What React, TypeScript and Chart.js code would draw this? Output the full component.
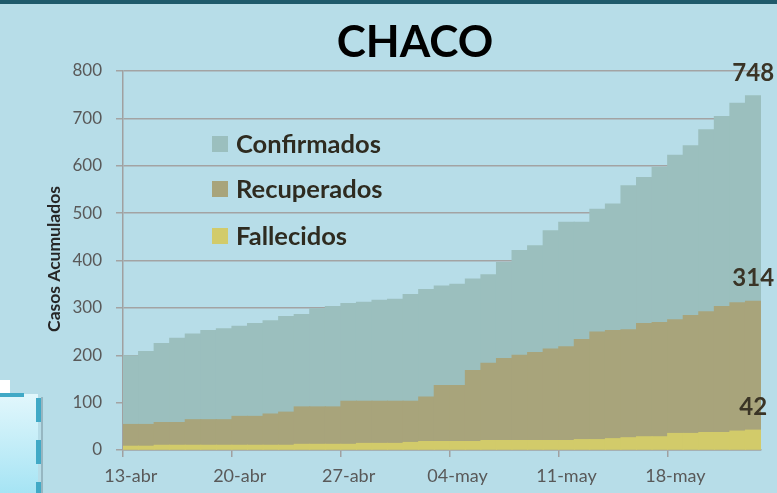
import React, { useEffect, useRef } from "react";
import { Chart, registerables } from "chart.js";

Chart.register(...registerables);

const W = 777;
const H = 493;

const fechas = [
  "13-abr", "14-abr", "15-abr", "16-abr", "17-abr", "18-abr", "19-abr",
  "20-abr", "21-abr", "22-abr", "23-abr", "24-abr", "25-abr", "26-abr",
  "27-abr", "28-abr", "29-abr", "30-abr", "01-may", "02-may", "03-may",
  "04-may", "05-may", "06-may", "07-may", "08-may", "09-may", "10-may",
  "11-may", "12-may", "13-may", "14-may", "15-may", "16-may", "17-may",
  "18-may", "19-may", "20-may", "21-may", "22-may", "23-may",
];

const confirmados = [
  199, 208, 225, 236, 245, 252, 256, 261, 267, 273, 282, 286, 298, 303,
  309, 312, 316, 318, 328, 339, 346, 350, 361, 370, 396, 421, 431, 463,
  481, 481, 508, 519, 558, 575, 597, 622, 642, 676, 704, 732, 748,
];

const recuperados = [
  54, 54, 58, 58, 64, 64, 64, 71, 71, 76, 80, 91, 91, 91, 103, 103, 103,
  103, 103, 112, 136, 136, 168, 183, 193, 200, 206, 213, 218, 233, 249,
  252, 254, 267, 269, 275, 284, 292, 303, 311, 314,
];

const fallecidos = [
  8, 8, 10, 10, 10, 10, 10, 10, 10, 10, 10, 12, 12, 12, 12, 14, 14, 14,
  16, 18, 18, 18, 18, 20, 20, 20, 20, 20, 20, 22, 22, 24, 26, 28, 28, 35,
  35, 37, 37, 40, 42,
];

const yTicks = [0, 100, 200, 300, 400, 500, 600, 700, 800];

const seriesNames = ["Confirmados", "Recuperados", "Fallecidos"];
const seriesColors = ["#9bbfbe", "#a8a47b", "#d2cb6a"];

const FONT = "Lato, 'Open Sans', sans-serif";

const decorPlugin = {
  id: "decor",
  beforeDraw(chart: any) {
    const ctx = chart.ctx;
    ctx.save();
    ctx.fillStyle = "#b7dde8";
    ctx.fillRect(0, 0, W, H);
    ctx.fillStyle = "#1f5a6b";
    ctx.fillRect(0, 0, W, 4);
    // bottom-left decoration
    ctx.fillStyle = "#ffffff";
    ctx.fillRect(0, 380, 10, 14);
    const g = ctx.createLinearGradient(0, 394, 0, 493);
    g.addColorStop(0, "#e2f7fc");
    g.addColorStop(1, "#a6e4f4");
    ctx.fillStyle = g;
    ctx.fillRect(0, 394, 38, 99);
    ctx.fillStyle = "rgba(90,110,120,0.35)";
    ctx.fillRect(41, 397, 2, 96);
    ctx.fillStyle = "#41a9c6";
    ctx.fillRect(0, 393, 24, 4);
    ctx.fillRect(36, 398, 5, 24);
    ctx.fillRect(36, 440, 5, 24);
    ctx.fillRect(36, 482, 5, 11);
    ctx.restore();
  },
  afterDraw(chart: any) {
    const ctx = chart.ctx;
    ctx.save();
    // title
    ctx.fillStyle = "#000000";
    ctx.font = `bold 44px ${FONT}`;
    ctx.textAlign = "center";
    ctx.textBaseline = "alphabetic";
    ctx.fillText("CHACO", 415, 57);

    // y axis title
    ctx.save();
    ctx.translate(54, 259);
    ctx.rotate(-Math.PI / 2);
    ctx.font = `bold 17.5px ${FONT}`;
    ctx.fillStyle = "#262626";
    ctx.textAlign = "center";
    ctx.textBaseline = "middle";
    ctx.fillText("Casos Acumulados", 0, 0);
    ctx.restore();

    // legend
    const rowsY = [144, 189, 236];
    seriesNames.forEach((name, i) => {
      ctx.fillStyle = seriesColors[i];
      ctx.fillRect(212, rowsY[i] - 8, 16, 16);
      ctx.fillStyle = "#2e2b20";
      ctx.font = `bold 25.5px ${FONT}`;
      ctx.textAlign = "left";
      ctx.textBaseline = "middle";
      ctx.fillText(name, 236, rowsY[i] + 1);
    });

    // value labels on the last bar of each series
    const lastVals = [confirmados, recuperados, fallecidos];
    chart.data.datasets.forEach((ds: any, di: number) => {
      const meta = chart.getDatasetMeta(di);
      const n = ds.data.length;
      const el = meta.data[n - 1];
      if (!el) return;
      ctx.fillStyle = "#3a3426";
      ctx.font = `bold 24px ${FONT}`;
      ctx.textAlign = "center";
      ctx.textBaseline = "alphabetic";
      ctx.fillText(String(lastVals[di][n - 1]), el.x, el.y - 15);
    });
    ctx.restore();
  },
};

export default function App() {
  const ref = useRef<HTMLCanvasElement | null>(null);

  useEffect(() => {
    if (!ref.current) return;
    const common = {
      grouped: false,
      barPercentage: 1,
      categoryPercentage: 1,
      borderWidth: 0,
      inflateAmount: 0.5,
    };
    const chart = new Chart(ref.current, {
      type: "bar",
      data: {
        labels: fechas,
        datasets: [
          { label: seriesNames[0], data: confirmados, backgroundColor: seriesColors[0], order: 3, ...common },
          { label: seriesNames[1], data: recuperados, backgroundColor: seriesColors[1], order: 2, ...common },
          { label: seriesNames[2], data: fallecidos, backgroundColor: seriesColors[2], order: 1, ...common },
        ] as any,
      },
      options: {
        animation: false,
        responsive: false,
        devicePixelRatio: 1,
        layout: { padding: { left: 0, top: 71, right: 16, bottom: 0 } },
        plugins: {
          legend: { display: false },
          tooltip: { enabled: false },
          title: { display: false },
        },
        scales: {
          x: {
            offset: true,
            afterFit: (s: any) => {
              s.height = 43;
            },
            grid: {
              offset: true,
              drawOnChartArea: false,
              drawTicks: true,
              tickLength: 7,
              color: (c: any) => (c.index % 7 === 0 ? "#a0a0a0" : "rgba(0,0,0,0)"),
              lineWidth: 1.5,
            },
            border: { color: "#a0a0a0", width: 1.5 },
            ticks: {
              autoSkip: false,
              maxRotation: 0,
              minRotation: 0,
              padding: 8,
              color: "#595959",
              font: { family: FONT, size: 18 },
              callback: (_v: any, i: number) => (i % 7 === 0 ? fechas[i] : ""),
            },
          },
          y: {
            min: yTicks[0],
            max: yTicks[yTicks.length - 1],
            afterFit: (s: any) => {
              s.width = 123;
            },
            afterBuildTicks: (s: any) => {
              s.ticks = yTicks.map((v) => ({ value: v }));
            },
            grid: {
              color: "#a3a3a3",
              lineWidth: 1.5,
              drawTicks: true,
              tickLength: 7,
            },
            border: { color: "#a0a0a0", width: 1.5 },
            ticks: {
              padding: 14,
              color: "#595959",
              font: { family: FONT, size: 17 },
            },
          },
        },
      },
      plugins: [decorPlugin],
    });
    return () => chart.destroy();
  }, []);

  return (
    <div style={{ position: "fixed", left: 0, top: 0, width: W, height: H }}>
      <canvas ref={ref} width={W} height={H} style={{ width: W, height: H, display: "block" }} />
    </div>
  );
}
